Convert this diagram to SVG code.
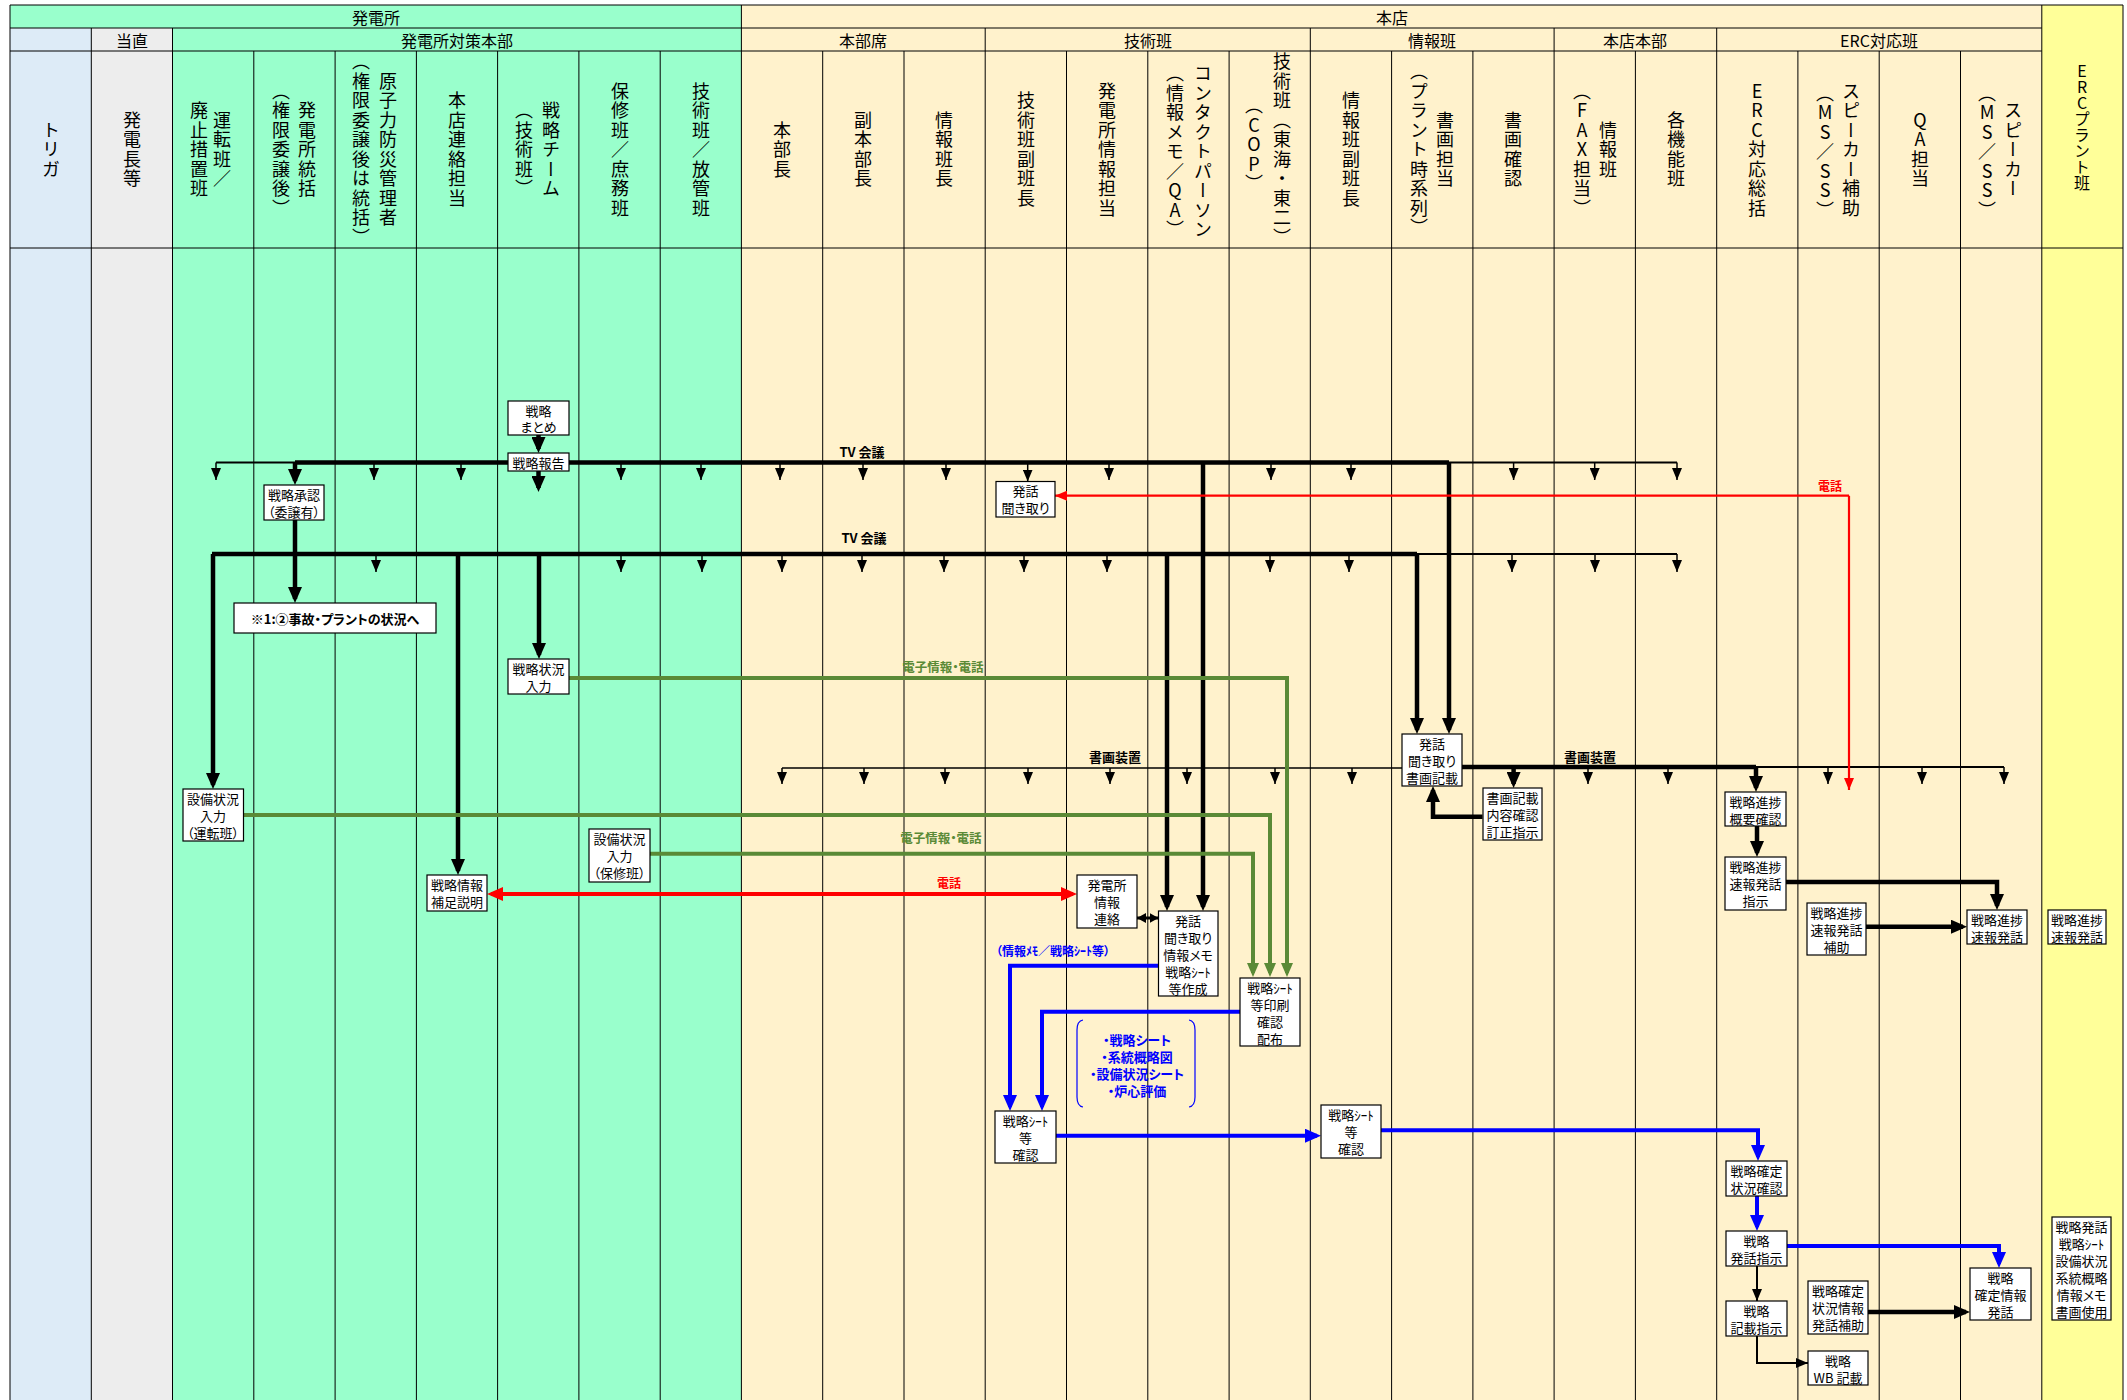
<svg xmlns="http://www.w3.org/2000/svg" width="2127" height="1400" viewBox="0 0 2127 1400">
<style>
text{font-family:"Noto Sans CJK JP","Noto Sans",sans-serif;font-feature-settings:"palt"}
.h{font-size:16px;text-anchor:middle;dominant-baseline:central}
.v{font-size:18px;letter-spacing:1.5px;writing-mode:vertical-rl;text-orientation:upright;text-anchor:middle;font-feature-settings:normal}
.t{font-size:13px;text-anchor:middle;dominant-baseline:central}
.lb{font-size:13px;font-weight:bold;text-anchor:middle;dominant-baseline:central}
.box{fill:#fff;stroke:#000;stroke-width:1.2}
.k{stroke:#000;stroke-width:4.5;fill:none}
.th{stroke:#000;stroke-width:2;fill:none}
.s{stroke:#000;stroke-width:1.5;fill:none}
.r{stroke:#f00;stroke-width:2.2;fill:none}
.rk{stroke:#f00;stroke-width:4;fill:none}
.g{stroke:#5A8A36;stroke-width:4;fill:none}
.b{stroke:#00f;stroke-width:4;fill:none}
.grid{stroke:#000;stroke-width:1;fill:none}
</style>
<defs>
<marker id="as" viewBox="0 0 12 10" refX="12" refY="5" markerWidth="12" markerHeight="10" markerUnits="userSpaceOnUse" orient="auto" preserveAspectRatio="none"><path d="M0,0L12,5L0,10z" fill="#000"/></marker>
<marker id="at" viewBox="0 0 16 14" refX="12" refY="7" markerWidth="16" markerHeight="14" markerUnits="userSpaceOnUse" orient="auto-start-reverse" preserveAspectRatio="none"><path d="M0,0L16,7L0,14z" fill="#000"/></marker>
<marker id="ad" viewBox="0 0 9 10" refX="9" refY="5" markerWidth="9" markerHeight="10" markerUnits="userSpaceOnUse" orient="auto-start-reverse" preserveAspectRatio="none"><path d="M0,0L9,5L0,10z" fill="#000"/></marker>
<marker id="ar" viewBox="0 0 12 10" refX="12" refY="5" markerWidth="12" markerHeight="10" markerUnits="userSpaceOnUse" orient="auto" preserveAspectRatio="none"><path d="M0,0L12,5L0,10z" fill="#f00"/></marker>
<marker id="art" viewBox="0 0 16 14" refX="12" refY="7" markerWidth="16" markerHeight="14" markerUnits="userSpaceOnUse" orient="auto-start-reverse" preserveAspectRatio="none"><path d="M0,0L16,7L0,14z" fill="#f00"/></marker>
<marker id="ag" viewBox="0 0 14 12" refX="10" refY="6" markerWidth="14" markerHeight="12" markerUnits="userSpaceOnUse" orient="auto" preserveAspectRatio="none"><path d="M0,0L14,6L0,12z" fill="#5A8A36"/></marker>
<marker id="ab" viewBox="0 0 16 14" refX="12" refY="7" markerWidth="16" markerHeight="14" markerUnits="userSpaceOnUse" orient="auto" preserveAspectRatio="none"><path d="M0,0L16,7L0,14z" fill="#00f"/></marker>
</defs>

<g id="background">
<rect x="10" y="28" width="81.3" height="1372" fill="#DDEBF7"/>
<rect x="91.3" y="28" width="81.2" height="1372" fill="#EDEDED"/>
<rect x="172.5" y="28" width="568.9" height="1372" fill="#99FFCC"/>
<rect x="10" y="5" width="731.4" height="23" fill="#99FFCC"/>
<rect x="741.4" y="5" width="1300.4" height="1395" fill="#FFF2CC"/>
<rect x="2041.8" y="5" width="81.2" height="1395" fill="#FFFF99"/>
<path class="grid" d="M10,5H2123M10,28H2041.8M10,51H2041.8M10,248H2123M10,5V1400M2123,5V1400M91.3,28V1400M172.5,28V1400M253.8,51V1400M335.1,51V1400M416.4,51V1400M497.6,51V1400M578.9,51V1400M660.2,51V1400M741.4,5V1400M822.7,51V1400M904,51V1400M985.2,28V1400M1066.5,51V1400M1147.8,51V1400M1229.1,51V1400M1310.3,28V1400M1391.6,51V1400M1472.9,51V1400M1554.1,28V1400M1635.4,51V1400M1716.7,28V1400M1797.9,51V1400M1879.2,51V1400M1960.5,51V1400M2041.8,5V1400"/>
</g>

<g id="header">
<text class="h" x="376" y="17">発電所</text>
<text class="h" x="1392" y="17">本店</text>
<text class="h" x="132" y="40">当直</text>
<text class="h" x="457" y="40">発電所対策本部</text>
<text class="h" x="863" y="40">本部席</text>
<text class="h" x="1148" y="40">技術班</text>
<text class="h" x="1432" y="40">情報班</text>
<text class="h" x="1635" y="40">本店本部</text>
<text class="h" x="1879" y="40">ERC対応班</text>
<text class="v" x="51" y="150">トリガ</text>
<text class="v" x="132" y="150">発電長等</text>
<text class="v" x="222" y="150">運転班／</text>
<text class="v" x="199" y="150">廃止措置班</text>
<text class="v" x="307" y="150">発電所統括</text>
<text class="v" x="281" y="150">（権限委譲後）</text>
<text class="v" x="388" y="150">原子力防災管理者</text>
<text class="v" x="361" y="150">（権限委譲後は統括）</text>
<text class="v" x="457" y="150">本店連絡担当</text>
<text class="v" x="551" y="150">戦略チーム</text>
<text class="v" x="524" y="150">（技術班）</text>
<text class="v" x="620" y="150">保修班／庶務班</text>
<text class="v" x="701" y="150">技術班／放管班</text>
<text class="v" x="782" y="150">本部長</text>
<text class="v" x="863" y="150">副本部長</text>
<text class="v" x="944" y="150">情報班長</text>
<text class="v" x="1026" y="150">技術班副班長</text>
<text class="v" x="1107" y="150">発電所情報担当</text>
<text class="v" x="1203" y="152">コンタクトパーソン</text>
<text class="v" x="1175" y="152">（情報メモ／QA）</text>
<text class="v" x="1282" y="150">技術班（東海・東二）</text>
<text class="v" x="1254" y="145">（COP）</text>
<text class="v" x="1351" y="150">情報班副班長</text>
<text class="v" x="1445" y="150">書画担当</text>
<text class="v" x="1419" y="150">（プラント時系列）</text>
<text class="v" x="1513" y="150">書画確認</text>
<text class="v" x="1608" y="150">情報班</text>
<text class="v" x="1582" y="150">（FAX担当）</text>
<text class="v" x="1676" y="150">各機能班</text>
<text class="v" x="1757" y="150">ERC対応総括</text>
<text class="v" x="1851" y="150">スピーカー補助</text>
<text class="v" x="1825" y="152">（MS／SS）</text>
<text class="v" x="1920" y="150">QA担当</text>
<text class="v" x="2013" y="150">スピーカー</text>
<text class="v" x="1987" y="152">（MS／SS）</text>
<text class="v" x="2082" y="127" style="font-size:16px;letter-spacing:0px">ERCプラント班</text>
</g>

<g id="connectors">
<path class="th" d="M216,462.5H295"/>
<path class="k" d="M295,462.5H1449"/>
<path class="th" d="M1449,462.5H1677"/>
<path class="k" d="M212,554H1417"/>
<path class="th" d="M1417,554H1677"/>
<path class="s" d="M782,768H1402"/>
<path class="k" d="M1462,767H1756"/>
<path class="th" d="M1756,767H2004"/>
<g marker-end="url(#as)" class="s">
<path d="M216,462.5V480"/><path d="M374,462.5V480"/><path d="M461,462.5V480"/><path d="M621,462.5V480"/><path d="M701,462.5V480"/><path d="M780,462.5V480"/><path d="M863,462.5V480"/><path d="M946,462.5V480"/><path d="M1027.7,462.5V481.5"/><path d="M1109,462.5V480"/><path d="M1271,462.5V480"/><path d="M1351,462.5V480"/><path d="M1513.6,462.5V480"/><path d="M1594.7,462.5V480"/><path d="M1677,462.5V480"/>
<path d="M376,554V572"/><path d="M621,554V572"/><path d="M702,554V572"/><path d="M782,554V572"/><path d="M862,554V572"/><path d="M944,554V572"/><path d="M1024,554V572"/><path d="M1107,554V572"/><path d="M1270,554V572"/><path d="M1349,554V572"/><path d="M1512,554V572"/><path d="M1595,554V572"/><path d="M1677,554V572"/>
<path d="M782,768V784"/><path d="M864,768V784"/><path d="M945,768V784"/><path d="M1028,768V784"/><path d="M1110,768V784"/><path d="M1187,768V784"/><path d="M1275,768V784"/><path d="M1352,768V784"/>
<path d="M1588,767V784"/><path d="M1668,767V784"/><path d="M1828,767V784"/><path d="M1922,767V784"/><path d="M2004,767V784"/>
</g>
<g marker-end="url(#at)" class="k">
<path d="M295,462.5V481"/>
<path d="M538.5,435V449"/>
<path d="M538.5,471V488"/>
<path d="M1203,462.5V907"/>
<path d="M1449,462.5V730"/>
<path d="M213,554V785"/>
<path d="M458,554V871"/>
<path d="M539,554V655"/>
<path d="M1167,554V907"/>
<path d="M1417,554V730"/>
<path d="M295,520V599"/>
<path d="M1513.6,767V784"/>
<path d="M1756,767V788"/>
<path d="M1482.5,816.7H1433V790"/>
<path d="M1757,826V853"/>
<path d="M1785,882H1997V906"/>
<path d="M1866,926.7H1963"/>
<path d="M1868,1312H1966"/>
</g>
<path class="th" d="M1757,1266V1301" marker-end="url(#as)"/>
<path class="th" d="M1757,1336V1363H1808" marker-end="url(#as)"/>
<path d="M1137,918H1158.5" stroke="#000" stroke-width="3" marker-start="url(#ad)" marker-end="url(#ad)"/>
<path class="r" d="M1849,495.7H1055" marker-end="url(#ar)"/>
<path class="r" d="M1849,495.7V790" marker-end="url(#ar)"/>
<path class="rk" d="M491,894H1073" marker-start="url(#art)" marker-end="url(#art)"/>
<path class="g" d="M569,678H1287V973" marker-end="url(#ag)"/>
<path class="g" d="M243.5,815H1270V973" marker-end="url(#ag)"/>
<path class="g" d="M650,853.7H1253V973" marker-end="url(#ag)"/>
<g class="b" marker-end="url(#ab)">
<path d="M1158.5,965.7H1010V1107"/>
<path d="M1240,1011.7H1042V1107"/>
<path d="M1056,1135.7H1317"/>
<path d="M1381,1130.3H1758V1157"/>
<path d="M1757,1196V1227"/>
<path d="M1787,1246H1999V1264"/>
</g>
<path d="M1083,1020Q1077,1021 1077,1030V1097Q1077,1106 1083,1107M1189,1020Q1195,1021 1195,1030V1097Q1195,1106 1189,1107" stroke="#00f" stroke-width="1.2" fill="none"/>
<text class="lb" x="862" y="451">TV 会議</text>
<text class="lb" x="864" y="537">TV 会議</text>
<text class="lb" x="1830" y="485" fill="#f00" style="font-size:12px">電話</text>
<text class="lb" x="949" y="882.5" fill="#f00" style="font-size:12px">電話</text>
<text class="lb" x="943" y="666" fill="#5A8A36" style="font-size:12.5px">電子情報・電話</text>
<text class="lb" x="941" y="837" fill="#5A8A36" style="font-size:12.5px">電子情報・電話</text>
<text class="lb" x="1115" y="756">書画装置</text>
<text class="lb" x="1590" y="756">書画装置</text>
<text class="lb" x="1053" y="950" fill="#00f" style="font-size:12px">（情報ﾒﾓ／戦略ｼｰﾄ等）</text>
<g fill="#00f" class="lb" style="font-size:12.5px">
<text class="lb" x="1137" y="1039">・戦略シート</text>
<text class="lb" x="1137" y="1056">・系統概略図</text>
<text class="lb" x="1137" y="1073">・設備状況シート</text>
<text class="lb" x="1137" y="1090">・炉心評価</text>
</g>
</g>

<g id="n1"><rect class="box" x="508" y="401" width="61" height="34"/><text class="t" x="538.5" y="410.5">戦略</text><text class="t" x="538.5" y="426.5">まとめ</text></g>
<g id="n2"><rect class="box" x="508" y="453" width="61" height="18"/><text class="t" x="538.5" y="462.5">戦略報告</text></g>
<g id="n3"><rect class="box" x="264" y="485" width="60" height="35"/><text class="t" x="294" y="494.5">戦略承認</text><text class="t" x="294" y="511.5">（委譲有）</text></g>
<g id="n4"><rect class="box" x="234" y="603" width="202" height="30"/><text class="lb" x="335" y="618">※1:②事故・プラントの状況へ</text></g>
<g id="n5"><rect class="box" x="508" y="659" width="61" height="35"/><text class="t" x="538.5" y="668.5">戦略状況</text><text class="t" x="538.5" y="685.5">入力</text></g>
<g id="n6"><rect class="box" x="996" y="481.5" width="59" height="35.5"/><text class="t" x="1025.5" y="490.5">発話</text><text class="t" x="1025.5" y="507.5">聞き取り</text></g>
<g id="n7"><rect class="box" x="1402" y="734" width="60" height="52"/><text class="t" x="1432" y="743">発話</text><text class="t" x="1432" y="760">聞き取り</text><text class="t" x="1432" y="777">書画記載</text></g>
<g id="n8"><rect class="box" x="1483" y="788" width="59" height="52"/><text class="t" x="1512.5" y="797">書画記載</text><text class="t" x="1512.5" y="814">内容確認</text><text class="t" x="1512.5" y="831">訂正指示</text></g>
<g id="n9"><rect class="box" x="1725" y="792" width="61" height="34"/><text class="t" x="1755.5" y="801">戦略進捗</text><text class="t" x="1755.5" y="818">概要確認</text></g>
<g id="n10"><rect class="box" x="1725" y="857" width="61" height="53"/><text class="t" x="1755.5" y="866">戦略進捗</text><text class="t" x="1755.5" y="883">速報発話</text><text class="t" x="1755.5" y="900">指示</text></g>
<g id="n11"><rect class="box" x="1807" y="903" width="59" height="52"/><text class="t" x="1836.5" y="912">戦略進捗</text><text class="t" x="1836.5" y="929">速報発話</text><text class="t" x="1836.5" y="946">補助</text></g>
<g id="n12"><rect class="box" x="1967" y="910" width="60" height="34"/><text class="t" x="1997" y="919">戦略進捗</text><text class="t" x="1997" y="936">速報発話</text></g>
<g id="n13"><rect class="box" x="2048" y="910" width="58" height="34"/><text class="t" x="2077" y="919">戦略進捗</text><text class="t" x="2077" y="936">速報発話</text></g>
<g id="n14"><rect class="box" x="183" y="789" width="60.5" height="52"/><text class="t" x="213" y="798">設備状況</text><text class="t" x="213" y="815">入力</text><text class="t" x="213" y="832">（運転班）</text></g>
<g id="n15"><rect class="box" x="589" y="829" width="61" height="53"/><text class="t" x="619.5" y="838">設備状況</text><text class="t" x="619.5" y="855">入力</text><text class="t" x="619.5" y="872">（保修班）</text></g>
<g id="n16"><rect class="box" x="427" y="875" width="60" height="36"/><text class="t" x="457" y="884.5">戦略情報</text><text class="t" x="457" y="901.5">補足説明</text></g>
<g id="n17"><rect class="box" x="1077" y="875" width="60" height="53"/><text class="t" x="1107" y="884">発電所</text><text class="t" x="1107" y="901">情報</text><text class="t" x="1107" y="918">連絡</text></g>
<g id="n18"><rect class="box" x="1158.5" y="911" width="59.5" height="85"/><text class="t" x="1188" y="920">発話</text><text class="t" x="1188" y="937">聞き取り</text><text class="t" x="1188" y="954">情報メモ</text><text class="t" x="1188" y="971">戦略ｼｰﾄ</text><text class="t" x="1188" y="988">等作成</text></g>
<g id="n19"><rect class="box" x="1240" y="978" width="60" height="68"/><text class="t" x="1270" y="987">戦略ｼｰﾄ</text><text class="t" x="1270" y="1004">等印刷</text><text class="t" x="1270" y="1021">確認</text><text class="t" x="1270" y="1038">配布</text></g>
<g id="n20"><rect class="box" x="995" y="1111" width="61" height="52"/><text class="t" x="1025.5" y="1120">戦略ｼｰﾄ</text><text class="t" x="1025.5" y="1137">等</text><text class="t" x="1025.5" y="1154">確認</text></g>
<g id="n21"><rect class="box" x="1321" y="1105" width="60" height="53"/><text class="t" x="1351" y="1114">戦略ｼｰﾄ</text><text class="t" x="1351" y="1131">等</text><text class="t" x="1351" y="1148">確認</text></g>
<g id="n22"><rect class="box" x="1726" y="1161" width="61" height="35"/><text class="t" x="1756.5" y="1170">戦略確定</text><text class="t" x="1756.5" y="1187">状況確認</text></g>
<g id="n23"><rect class="box" x="1726" y="1231" width="61" height="35"/><text class="t" x="1756.5" y="1240">戦略</text><text class="t" x="1756.5" y="1257">発話指示</text></g>
<g id="n24"><rect class="box" x="1726" y="1301" width="61" height="35"/><text class="t" x="1756.5" y="1310">戦略</text><text class="t" x="1756.5" y="1327">記載指示</text></g>
<g id="n25"><rect class="box" x="1808" y="1281" width="60" height="53"/><text class="t" x="1838" y="1290">戦略確定</text><text class="t" x="1838" y="1307">状況情報</text><text class="t" x="1838" y="1324">発話補助</text></g>
<g id="n26"><rect class="box" x="1808" y="1351" width="60" height="34"/><text class="t" x="1838" y="1360">戦略</text><text class="t" x="1838" y="1377">WB 記載</text></g>
<g id="n27"><rect class="box" x="1970" y="1268" width="61" height="52"/><text class="t" x="2000.5" y="1277">戦略</text><text class="t" x="2000.5" y="1294">確定情報</text><text class="t" x="2000.5" y="1311">発話</text></g>
<g id="n28"><rect class="box" x="2052" y="1217" width="59" height="103"/><text class="t" x="2081.5" y="1226.5">戦略発話</text><text class="t" x="2081.5" y="1243.5">戦略ｼｰﾄ</text><text class="t" x="2081.5" y="1260.5">設備状況</text><text class="t" x="2081.5" y="1277.5">系統概略</text><text class="t" x="2081.5" y="1294.5">情報メモ</text><text class="t" x="2081.5" y="1311.5">書画使用</text></g>
</svg>
